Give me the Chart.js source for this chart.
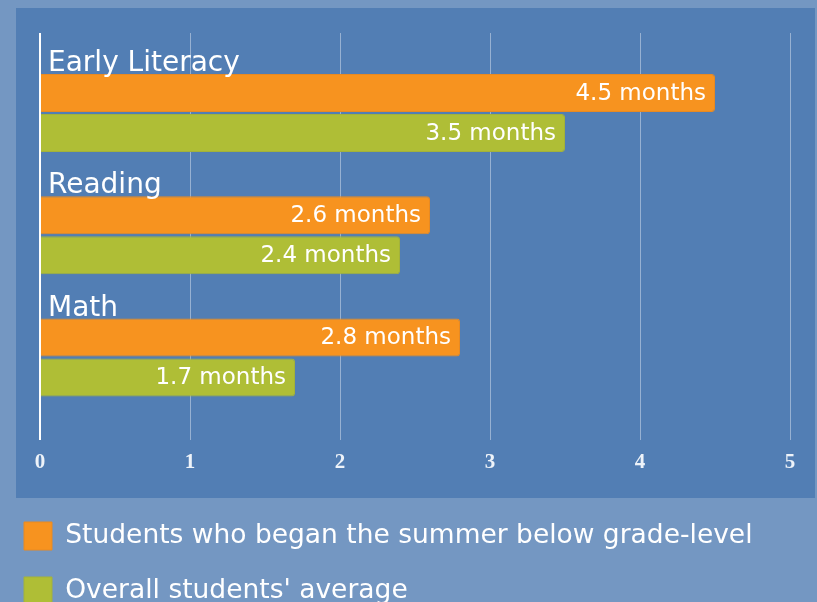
<!DOCTYPE html>
<html>
<head>
<meta charset="utf-8">
<script src="https://cdn.jsdelivr.net/npm/chart.js@4"></script>
<style>
  html, body { margin: 0; padding: 0; overflow: hidden; background: #7497c2; }
  canvas { display: block; }
</style>
</head>
<body>
<canvas id="chart" width="817" height="615"></canvas>
<script>
const categories = ["Early Literacy", "Reading", "Math"];
const seriesNames = ["Students who began the summer below grade-level", "Overall students' average"];
const belowGrade = [4.5, 2.6, 2.8];
const overallAvg = [3.5, 2.4, 1.7];
const xTicks = [0, 1, 2, 3, 4, 5];

const outerBg = "#7497c2";
const panelBg = "#527eb4";
const orange = "#f7931f";
const green = "#afbe36";
const labelFont = "'DejaVu Sans', sans-serif";

// background + inner panel
const panel = {
  id: "panel",
  beforeDraw(chart) {
    const ctx = chart.ctx;
    ctx.save();
    ctx.fillStyle = outerBg;
    ctx.fillRect(0, 0, chart.width, chart.height);
    ctx.fillStyle = panelBg;
    ctx.fillRect(16, 8, 799, 490);
    ctx.restore();
  }
};

// category names above groups, value labels inside bar ends
const labels = {
  id: "labels",
  afterDatasetsDraw(chart) {
    const ctx = chart.ctx;
    ctx.save();
    ctx.fillStyle = "#fff";
    ctx.textAlign = "left";
    ctx.textBaseline = "alphabetic";
    ctx.font = "28px " + labelFont;
    chart.getDatasetMeta(0).data.forEach((bar, i) => {
      ctx.fillText(categories[i], chart.chartArea.left + 8, bar.y - bar.height / 2 - 3);
    });
    ctx.font = "23px " + labelFont;
    ctx.textAlign = "right";
    ctx.textBaseline = "middle";
    chart.data.datasets.forEach((ds, d) => {
      chart.getDatasetMeta(d).data.forEach((bar, i) => {
        ctx.fillText(ds.values[i] + " months", bar.x - 9, bar.y + 1);
      });
    });
    ctx.restore();
  }
};

const toPoints = vals => vals.map((v, i) => ({ x: v, y: i }));

new Chart(document.getElementById("chart"), {
  type: "bar",
  data: {
    datasets: [
      { label: seriesNames[0], values: belowGrade, data: toPoints(belowGrade),
        backgroundColor: orange, borderColor: "#e88a22", borderWidth: 1 },
      { label: seriesNames[1], values: overallAvg, data: toPoints(overallAvg),
        backgroundColor: green, borderColor: "#a3b23a", borderWidth: 1 }
    ]
  },
  options: {
    responsive: false,
    animation: false,
    indexAxis: "y",
    layout: { padding: { top: 33, right: 27, left: -3, bottom: 0 } },
    datasets: {
      bar: {
        categoryPercentage: 0.654,
        barPercentage: 0.95,
        borderRadius: 3,
        borderSkipped: "start"
      }
    },
    scales: {
      x: {
        type: "linear",
        min: xTicks[0],
        max: xTicks[xTicks.length - 1],
        afterBuildTicks: s => { s.ticks = xTicks.map(v => ({ value: v })); },
        afterFit: s => { s.height = 55; },
        border: { display: false },
        grid: {
          drawTicks: false,
          color: c => c.tick && c.tick.value === 0 ? "#ffffff" : "rgba(255,255,255,0.4)",
          lineWidth: c => c.tick && c.tick.value === 0 ? 2 : 1
        },
        ticks: {
          padding: 10,
          color: "#eef3f9",
          font: { family: "'Liberation Serif', serif", weight: "bold", size: 21 }
        }
      },
      y: {
        type: "linear",
        reverse: true,
        offset: false,
        min: -0.6544,
        max: 2.6748,
        afterBuildTicks: s => { s.ticks = categories.map((c, i) => ({ value: i })); },
        afterFit: s => { s.width = 43; },
        ticks: { display: false },
        grid: { display: false, offset: false },
        border: { display: false }
      }
    },
    plugins: {
      tooltip: { enabled: false },
      legend: {
        position: "bottom",
        align: "start",
        labels: {
          color: "#fff",
          boxWidth: 28,
          boxHeight: 28,
          padding: 27,
          font: { family: labelFont, size: 26.5 }
        }
      }
    }
  },
  plugins: [panel, labels]
});
</script>
</body>
</html>
